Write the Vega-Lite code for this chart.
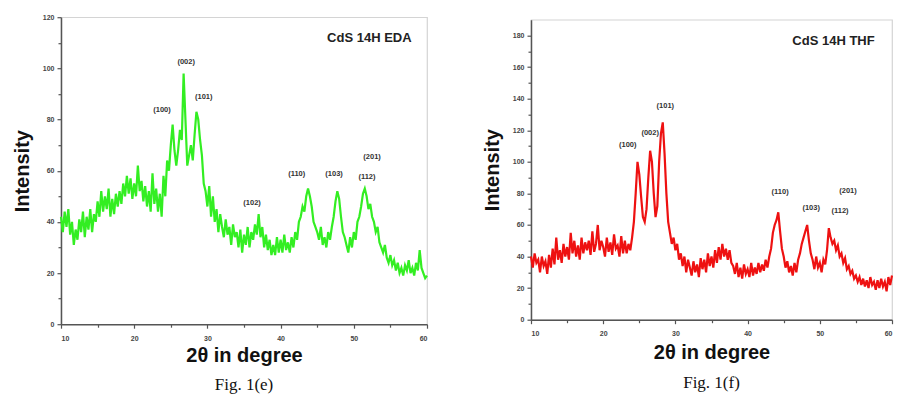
{
  "$schema": "https://vega.github.io/schema/vega-lite/v6.json",
  "background": "white",
  "padding": {"left": 11, "top": 12, "right": 2, "bottom": 2},
  "spacing": 49,
  "center": true,
  "config": {
    "view": {"stroke": "#d4d4d4", "strokeWidth": 1.2},
    "axis": {
      "domainColor": "#555555", "domainWidth": 1.5, "tickColor": "#555555", "tickWidth": 1.2,
      "tickSize": 4, "labelFont": "Liberation Sans", "labelFontSize": 7, "labelFontWeight": "bold",
      "labelColor": "#444444", "grid": false, "titleFont": "Liberation Sans", "titleFontSize": 20,
      "titleFontWeight": "bold", "titleColor": "#111111"
    },
    "title": {"font": "Liberation Serif", "fontSize": 17, "fontWeight": "normal", "color": "#111111", "orient": "bottom", "offset": 12}
  },
  "datasets": {
    "eda": [
      {"x":10,"y":42},{"x":10.25,"y":36},{"x":10.5,"y":44},{"x":10.75,"y":38},
      {"x":11,"y":45},{"x":11.25,"y":35},{"x":11.5,"y":40},{"x":11.75,"y":31},
      {"x":12,"y":37},{"x":12.25,"y":33},{"x":12.5,"y":41},{"x":12.75,"y":36},
      {"x":13,"y":44},{"x":13.25,"y":34},{"x":13.5,"y":42},{"x":13.75,"y":37},
      {"x":14,"y":45},{"x":14.25,"y":36},{"x":14.5,"y":43},{"x":14.75,"y":40},
      {"x":15,"y":48},{"x":15.25,"y":42},{"x":15.5,"y":52},{"x":15.75,"y":44},
      {"x":16,"y":50},{"x":16.25,"y":45},{"x":16.5,"y":53},{"x":16.75,"y":42},
      {"x":17,"y":49},{"x":17.25,"y":43},{"x":17.5,"y":51},{"x":17.75,"y":46},
      {"x":18,"y":52},{"x":18.25,"y":47},{"x":18.5,"y":55},{"x":18.75,"y":50},
      {"x":19,"y":58},{"x":19.25,"y":51},{"x":19.5,"y":57},{"x":19.75,"y":49},
      {"x":20,"y":55},{"x":20.25,"y":50},{"x":20.5,"y":62},{"x":20.75,"y":52},
      {"x":21,"y":56},{"x":21.25,"y":48},{"x":21.5,"y":54},{"x":21.75,"y":46},
      {"x":22,"y":52},{"x":22.25,"y":44},{"x":22.5,"y":59},{"x":22.75,"y":47},
      {"x":23,"y":53},{"x":23.25,"y":44},{"x":23.5,"y":51},{"x":23.75,"y":42},
      {"x":24,"y":58},{"x":24.25,"y":50},{"x":24.5,"y":64},{"x":24.75,"y":60},
      {"x":25,"y":70},{"x":25.25,"y":78},{"x":25.5,"y":68},{"x":25.75,"y":62},
      {"x":26,"y":68},{"x":26.25,"y":76},{"x":26.5,"y":72},{"x":26.75,"y":98},
      {"x":27,"y":80},{"x":27.25,"y":62},{"x":27.5,"y":66},{"x":27.75,"y":70},
      {"x":28,"y":64},{"x":28.25,"y":74},{"x":28.5,"y":83},{"x":28.75,"y":80},
      {"x":29,"y":72},{"x":29.25,"y":66},{"x":29.5,"y":55},{"x":29.75,"y":52},
      {"x":30,"y":46},{"x":30.25,"y":54},{"x":30.5,"y":42},{"x":30.75,"y":50},
      {"x":31,"y":40},{"x":31.25,"y":45},{"x":31.5,"y":36},{"x":31.75,"y":43},
      {"x":32,"y":38},{"x":32.25,"y":34},{"x":32.5,"y":41},{"x":32.75,"y":35},
      {"x":33,"y":38},{"x":33.25,"y":31},{"x":33.5,"y":39},{"x":33.75,"y":34},
      {"x":34,"y":36},{"x":34.25,"y":30},{"x":34.5,"y":37},{"x":34.75,"y":28},
      {"x":35,"y":35},{"x":35.25,"y":31},{"x":35.5,"y":38},{"x":35.75,"y":30},
      {"x":36,"y":36},{"x":36.25,"y":33},{"x":36.5,"y":39},{"x":36.75,"y":35},
      {"x":37,"y":43},{"x":37.25,"y":34},{"x":37.5,"y":38},{"x":37.75,"y":30},
      {"x":38,"y":35},{"x":38.25,"y":29},{"x":38.5,"y":33},{"x":38.75,"y":27},
      {"x":39,"y":31},{"x":39.25,"y":27},{"x":39.5,"y":34},{"x":39.75,"y":28},
      {"x":40,"y":33},{"x":40.25,"y":28},{"x":40.5,"y":35},{"x":40.75,"y":29},
      {"x":41,"y":32},{"x":41.25,"y":28},{"x":41.5,"y":34},{"x":41.75,"y":30},
      {"x":42,"y":36},{"x":42.25,"y":33},{"x":42.5,"y":40},{"x":42.75,"y":42},
      {"x":43,"y":46},{"x":43.25,"y":44},{"x":43.5,"y":50},{"x":43.75,"y":53},
      {"x":44,"y":50},{"x":44.25,"y":46},{"x":44.5,"y":40},{"x":44.75,"y":38},
      {"x":45,"y":36},{"x":45.25,"y":33},{"x":45.5,"y":38},{"x":45.75,"y":31},
      {"x":46,"y":34},{"x":46.25,"y":30},{"x":46.5,"y":36},{"x":46.75,"y":33},
      {"x":47,"y":38},{"x":47.25,"y":42},{"x":47.5,"y":48},{"x":47.75,"y":52},
      {"x":48,"y":49},{"x":48.25,"y":42},{"x":48.5,"y":36},{"x":48.75,"y":34},
      {"x":49,"y":31},{"x":49.25,"y":28},{"x":49.5,"y":34},{"x":49.75,"y":30},
      {"x":50,"y":36},{"x":50.25,"y":33},{"x":50.5,"y":40},{"x":50.75,"y":42},
      {"x":51,"y":46},{"x":51.25,"y":51},{"x":51.5,"y":53},{"x":51.75,"y":50},
      {"x":52,"y":45},{"x":52.25,"y":47},{"x":52.5,"y":42},{"x":52.75,"y":40},
      {"x":53,"y":36},{"x":53.25,"y":38},{"x":53.5,"y":32},{"x":53.75,"y":30},
      {"x":54,"y":28},{"x":54.25,"y":31},{"x":54.5,"y":26},{"x":54.75,"y":24},
      {"x":55,"y":27},{"x":55.25,"y":23},{"x":55.5,"y":25},{"x":55.75,"y":21},
      {"x":56,"y":24},{"x":56.25,"y":20},{"x":56.5,"y":22},{"x":56.75,"y":19},
      {"x":57,"y":23},{"x":57.25,"y":21},{"x":57.5,"y":25},{"x":57.75,"y":20},
      {"x":58,"y":22},{"x":58.25,"y":19},{"x":58.5,"y":24},{"x":58.75,"y":21},
      {"x":59,"y":29},{"x":59.25,"y":22},{"x":59.5,"y":20},{"x":59.75,"y":18},
      {"x":60,"y":19}
    ],
    "thf": [
      {"x":10,"y":40},{"x":10.25,"y":33},{"x":10.5,"y":42},{"x":10.75,"y":36},
      {"x":11,"y":38},{"x":11.25,"y":30},{"x":11.5,"y":40},{"x":11.75,"y":34},
      {"x":12,"y":37},{"x":12.25,"y":29},{"x":12.5,"y":41},{"x":12.75,"y":33},
      {"x":13,"y":45},{"x":13.25,"y":35},{"x":13.5,"y":52},{"x":13.75,"y":38},
      {"x":14,"y":44},{"x":14.25,"y":36},{"x":14.5,"y":48},{"x":14.75,"y":40},
      {"x":15,"y":46},{"x":15.25,"y":38},{"x":15.5,"y":55},{"x":15.75,"y":42},
      {"x":16,"y":50},{"x":16.25,"y":40},{"x":16.5,"y":47},{"x":16.75,"y":38},
      {"x":17,"y":52},{"x":17.25,"y":42},{"x":17.5,"y":49},{"x":17.75,"y":44},
      {"x":18,"y":50},{"x":18.25,"y":41},{"x":18.5,"y":56},{"x":18.75,"y":43},
      {"x":19,"y":48},{"x":19.25,"y":60},{"x":19.5,"y":44},{"x":19.75,"y":50},
      {"x":20,"y":46},{"x":20.25,"y":40},{"x":20.5,"y":52},{"x":20.75,"y":43},
      {"x":21,"y":49},{"x":21.25,"y":41},{"x":21.5,"y":54},{"x":21.75,"y":45},
      {"x":22,"y":47},{"x":22.25,"y":40},{"x":22.5,"y":53},{"x":22.75,"y":42},
      {"x":23,"y":50},{"x":23.25,"y":42},{"x":23.5,"y":48},{"x":23.75,"y":44},
      {"x":24,"y":52},{"x":24.25,"y":62},{"x":24.5,"y":80},{"x":24.75,"y":100},
      {"x":25,"y":92},{"x":25.25,"y":78},{"x":25.5,"y":65},{"x":25.75,"y":62},
      {"x":26,"y":70},{"x":26.25,"y":90},{"x":26.5,"y":107},{"x":26.75,"y":100},
      {"x":27,"y":80},{"x":27.25,"y":65},{"x":27.5,"y":72},{"x":27.75,"y":100},
      {"x":28,"y":118},{"x":28.25,"y":125},{"x":28.5,"y":105},{"x":28.75,"y":80},
      {"x":29,"y":62},{"x":29.25,"y":55},{"x":29.5,"y":48},{"x":29.75,"y":52},
      {"x":30,"y":44},{"x":30.25,"y":48},{"x":30.5,"y":38},{"x":30.75,"y":42},
      {"x":31,"y":34},{"x":31.25,"y":40},{"x":31.5,"y":30},{"x":31.75,"y":38},
      {"x":32,"y":33},{"x":32.25,"y":28},{"x":32.5,"y":37},{"x":32.75,"y":30},
      {"x":33,"y":35},{"x":33.25,"y":27},{"x":33.5,"y":39},{"x":33.75,"y":32},
      {"x":34,"y":38},{"x":34.25,"y":30},{"x":34.5,"y":42},{"x":34.75,"y":34},
      {"x":35,"y":40},{"x":35.25,"y":33},{"x":35.5,"y":44},{"x":35.75,"y":36},
      {"x":36,"y":46},{"x":36.25,"y":38},{"x":36.5,"y":48},{"x":36.75,"y":40},
      {"x":37,"y":45},{"x":37.25,"y":38},{"x":37.5,"y":44},{"x":37.75,"y":36},
      {"x":38,"y":34},{"x":38.25,"y":29},{"x":38.5,"y":36},{"x":38.75,"y":27},
      {"x":39,"y":33},{"x":39.25,"y":26},{"x":39.5,"y":35},{"x":39.75,"y":29},
      {"x":40,"y":32},{"x":40.25,"y":27},{"x":40.5,"y":36},{"x":40.75,"y":28},
      {"x":41,"y":33},{"x":41.25,"y":29},{"x":41.5,"y":36},{"x":41.75,"y":30},
      {"x":42,"y":35},{"x":42.25,"y":31},{"x":42.5,"y":38},{"x":42.75,"y":33},
      {"x":43,"y":40},{"x":43.25,"y":45},{"x":43.5,"y":55},{"x":43.75,"y":60},
      {"x":44,"y":63},{"x":44.25,"y":68},{"x":44.5,"y":56},{"x":44.75,"y":45},
      {"x":45,"y":40},{"x":45.25,"y":33},{"x":45.5,"y":37},{"x":45.75,"y":30},
      {"x":46,"y":34},{"x":46.25,"y":28},{"x":46.5,"y":36},{"x":46.75,"y":30},
      {"x":47,"y":38},{"x":47.25,"y":42},{"x":47.5,"y":48},{"x":47.75,"y":52},
      {"x":48,"y":56},{"x":48.25,"y":60},{"x":48.5,"y":50},{"x":48.75,"y":42},
      {"x":49,"y":38},{"x":49.25,"y":32},{"x":49.5,"y":40},{"x":49.75,"y":33},
      {"x":50,"y":36},{"x":50.25,"y":30},{"x":50.5,"y":38},{"x":50.75,"y":35},
      {"x":51,"y":44},{"x":51.25,"y":58},{"x":51.5,"y":52},{"x":51.75,"y":48},
      {"x":52,"y":50},{"x":52.25,"y":44},{"x":52.5,"y":47},{"x":52.75,"y":40},
      {"x":53,"y":42},{"x":53.25,"y":36},{"x":53.5,"y":39},{"x":53.75,"y":32},
      {"x":54,"y":34},{"x":54.25,"y":29},{"x":54.5,"y":31},{"x":54.75,"y":26},
      {"x":55,"y":28},{"x":55.25,"y":24},{"x":55.5,"y":27},{"x":55.75,"y":22},
      {"x":56,"y":26},{"x":56.25,"y":21},{"x":56.5,"y":25},{"x":56.75,"y":20},
      {"x":57,"y":27},{"x":57.25,"y":22},{"x":57.5,"y":24},{"x":57.75,"y":19},
      {"x":58,"y":25},{"x":58.25,"y":20},{"x":58.5,"y":26},{"x":58.75,"y":21},
      {"x":59,"y":24},{"x":59.25,"y":18},{"x":59.5,"y":27},{"x":59.75,"y":22},
      {"x":60,"y":28}
    ],
    "edaLabels": [
      {"x":23.8,"y":83.6,"label":"(100)"},
      {"x":27.1,"y":102.4,"label":"(002)"},
      {"x":29.5,"y":88.7,"label":"(101)"},
      {"x":36.1,"y":47.3,"label":"(102)"},
      {"x":42.2,"y":58.6,"label":"(110)"},
      {"x":47.3,"y":58.6,"label":"(103)"},
      {"x":51.8,"y":57.5,"label":"(112)"},
      {"x":52.5,"y":65.3,"label":"(201)"}
    ],
    "thfLabels": [
      {"x":23.4,"y":110.8,"label":"(100)"},
      {"x":26.5,"y":118.4,"label":"(002)"},
      {"x":28.6,"y":135.5,"label":"(101)"},
      {"x":44.5,"y":81,"label":"(110)"},
      {"x":48.8,"y":70.9,"label":"(103)"},
      {"x":52.8,"y":69,"label":"(112)"},
      {"x":53.9,"y":81.7,"label":"(201)"}
    ],
    "edaName": [{"x":57.9,"y":111.8,"label":"CdS 14H EDA"}],
    "thfName": [{"x":57.6,"y":176.7,"label":"CdS 14H THF"}]
  },
  "hconcat": [
    {
      "width": 366,
      "height": 307,
      "title": {"text": "Fig. 1(e)"},
      "resolve": {"axis": {"x": "independent", "y": "independent"}},
      "layer": [
        {
          "data": {"name": "eda"},
          "mark": {"type": "line", "color": "#33ee22", "strokeWidth": 2.2, "strokeJoin": "miter"},
          "encoding": {
            "x": {"field": "x", "type": "quantitative", "scale": {"domain": [10, 60], "nice": false},
                  "axis": {"orient": "bottom", "values": [10, 20, 30, 40, 50, 60], "labelPadding": 6, "title": "2θ in degree", "titlePadding": 4}},
            "y": {"field": "y", "type": "quantitative", "scale": {"domain": [0, 120], "nice": false},
                  "axis": {"orient": "left", "values": [0, 20, 40, 60, 80, 100, 120], "labelPadding": 3, "title": "Intensity", "titlePadding": 10}}
          }
        },
        {
          "data": {"name": "edaLabels"},
          "mark": {"type": "text", "font": "Liberation Sans", "fontSize": 7.5, "fontWeight": "bold", "fill": "#333333"},
          "encoding": {
            "x": {"field": "x", "type": "quantitative",
                  "axis": {"orient": "bottom", "values": [15, 25, 35, 45, 55], "labels": false, "domain": false, "tickSize": 3, "title": null}},
            "y": {"field": "y", "type": "quantitative",
                  "axis": {"orient": "left", "values": [10, 30, 50, 70, 90, 110], "labels": false, "domain": false, "tickSize": 3, "title": null}},
            "text": {"field": "label"}
          }
        },
        {
          "data": {"name": "edaName"},
          "mark": {"type": "text", "font": "Liberation Sans", "fontSize": 13, "fontWeight": "bold", "fill": "#222222", "align": "right"},
          "encoding": {
            "x": {"field": "x", "type": "quantitative", "axis": null},
            "y": {"field": "y", "type": "quantitative", "axis": null},
            "text": {"field": "label"}
          }
        }
      ]
    },
    {
      "width": 361,
      "height": 300,
      "title": {"text": "Fig. 1(f)"},
      "resolve": {"axis": {"x": "independent", "y": "independent"}},
      "layer": [
        {
          "data": {"name": "thf"},
          "mark": {"type": "line", "color": "#ee1111", "strokeWidth": 2.2, "strokeJoin": "miter"},
          "encoding": {
            "x": {"field": "x", "type": "quantitative", "scale": {"domain": [10, 60], "nice": false},
                  "axis": {"orient": "bottom", "values": [10, 20, 30, 40, 50, 60], "labelPadding": 6, "title": "2θ in degree", "titlePadding": 6}},
            "y": {"field": "y", "type": "quantitative", "scale": {"domain": [0, 190], "nice": false},
                  "axis": {"orient": "left", "values": [0, 20, 40, 60, 80, 100, 120, 140, 160, 180], "labelPadding": 3, "title": "Intensity", "titlePadding": 10}}
          }
        },
        {
          "data": {"name": "thfLabels"},
          "mark": {"type": "text", "font": "Liberation Sans", "fontSize": 7.5, "fontWeight": "bold", "fill": "#333333"},
          "encoding": {
            "x": {"field": "x", "type": "quantitative",
                  "axis": {"orient": "bottom", "values": [15, 25, 35, 45, 55], "labels": false, "domain": false, "tickSize": 3, "title": null}},
            "y": {"field": "y", "type": "quantitative",
                  "axis": {"orient": "left", "values": [10, 30, 50, 70, 90, 110, 130, 150, 170], "labels": false, "domain": false, "tickSize": 3, "title": null}},
            "text": {"field": "label"}
          }
        },
        {
          "data": {"name": "thfName"},
          "mark": {"type": "text", "font": "Liberation Sans", "fontSize": 13, "fontWeight": "bold", "fill": "#222222", "align": "right"},
          "encoding": {
            "x": {"field": "x", "type": "quantitative", "axis": null},
            "y": {"field": "y", "type": "quantitative", "axis": null},
            "text": {"field": "label"}
          }
        }
      ]
    }
  ]
}
